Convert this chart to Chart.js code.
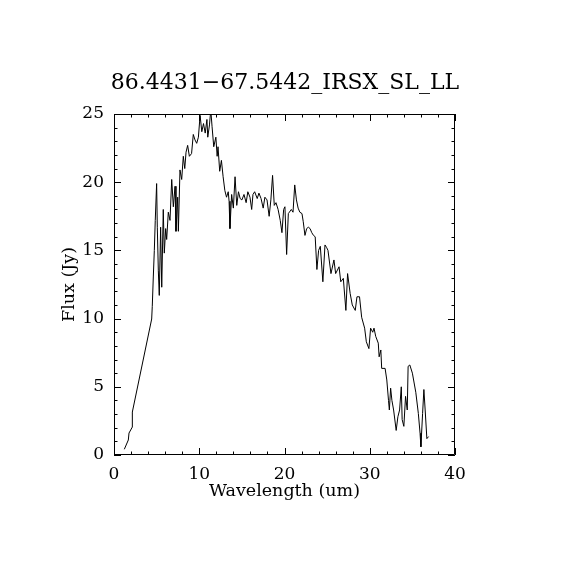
<!DOCTYPE html>
<html>
<head>
<meta charset="utf-8">
<script src="https://cdn.jsdelivr.net/npm/chart.js@4/dist/chart.umd.min.js"></script>
<style>
html,body{margin:0;padding:0;background:#fff;}
#wrap{width:570px;height:570px;}
</style>
</head>
<body>
<div id="wrap"><canvas id="c" width="570" height="570"></canvas></div>
<script>
const chartTitle = "86.4431\u221267.5442_IRSX_SL_LL";
const xTitle = "Wavelength (um)";
const yTitle = "Flux (Jy)";
const xTicks = [0, 10, 20, 30, 40];
const yTicks = [0, 5, 10, 15, 20, 25];

const wavelength = [
 1.21,1.68,1.76,2.15,2.15,4.42,4.49,4.61,4.73,4.84,
 5.0,5.08,5.2,5.31,5.47,5.6,5.78,5.9,6.06,6.18,
 6.37,6.57,6.77,6.96,7.16,7.27,7.47,7.55,7.74,7.94,
 8.13,8.3,8.45,8.64,8.84,9.1,9.3,9.5,9.7,9.9,
 10.1,10.3,10.5,10.7,10.9,11.0,11.2,11.35,11.5,11.7,
 11.95,12.1,12.2,12.4,12.6,12.8,13.0,13.2,13.4,13.5,
 13.6,13.8,14.0,14.2,14.4,14.6,14.8,15.0,15.25,15.5,
 15.7,15.95,16.15,16.3,16.5,16.8,17.0,17.25,17.5,17.7,
 17.95,18.2,18.4,18.6,18.8,19.0,19.25,19.5,19.7,19.9,
 20.05,20.25,20.45,20.8,21.0,21.2,21.4,21.6,21.8,22.05,
 22.2,22.4,22.6,22.8,23.0,23.2,23.4,23.6,23.8,24.0,
 24.2,24.5,24.75,24.95,25.1,25.45,25.8,26.0,26.4,26.6,
 26.9,27.2,27.4,27.7,27.95,28.3,28.5,28.8,29.05,29.4,
 29.6,29.9,30.1,30.35,30.5,30.7,31.0,31.1,31.3,31.4,
 31.8,32.0,32.2,32.3,32.45,32.6,32.8,33.1,33.3,33.5,
 33.7,33.8,34.0,34.2,34.4,34.5,34.7,35.0,35.4,35.7,
 35.9,36.0,36.2,36.35,36.5,36.7,36.9
];
const flux = [
 0.42,1.10,1.61,2.05,3.15,9.97,10.9,13.05,15.0,17.2,
 19.9,16.7,13.5,11.7,16.7,12.3,18.0,14.8,16.6,15.8,
 17.8,17.2,20.2,18.2,19.7,16.4,18.9,16.4,20.9,20.2,
 21.9,21.0,22.2,22.7,21.9,22.1,23.5,23.1,22.85,23.3,
 24.9,23.7,24.3,23.6,24.6,23.3,24.2,25.3,24.1,22.6,
 23.3,21.9,22.6,20.8,21.6,20.4,19.4,18.9,19.3,18.6,
 16.6,19.1,18.1,20.4,18.3,19.3,18.8,18.7,19.1,18.5,
 19.3,18.9,18.0,19.1,19.3,18.8,19.2,18.8,18.1,18.9,
 18.7,17.5,18.7,20.5,18.3,18.5,18.0,17.2,16.3,18.0,
 18.2,14.7,17.7,18.0,17.8,19.8,18.7,18.1,17.8,17.7,
 17.1,16.1,16.6,16.7,16.6,16.3,16.1,16.0,13.6,15.0,
 15.3,12.7,15.4,15.2,15.0,13.3,14.3,13.3,13.8,12.7,
 12.95,10.6,13.3,11.85,11.0,10.6,11.6,11.6,10.1,9.3,
 8.3,7.8,9.3,9.0,9.3,8.7,8.2,7.2,7.7,6.35,
 6.35,5.5,4.0,3.3,4.9,4.0,3.3,1.8,2.8,3.3,
 5.0,2.6,2.1,4.3,3.3,6.5,6.6,6.0,4.6,3.05,
 1.6,0.6,3.05,4.8,3.3,1.2,1.35
];

const points = wavelength.map((w, i) => ({x: w, y: flux[i]}));
const SERIF = "'DejaVu Serif', serif";

const frameTicks = {
  id: 'frameTicks',
  afterDraw(chart) {
    const {ctx, chartArea: a, scales} = chart;
    const xs = scales.x, ys = scales.y;
    ctx.save();
    ctx.strokeStyle = '#000';
    ctx.lineWidth = 1;
    ctx.beginPath();
    ctx.rect(a.left + 0.5, a.top + 0.5, a.right - a.left - 1, a.bottom - a.top - 1);
    ctx.stroke();
    ctx.beginPath();
    for (let v = 0; v <= 40; v += 2) {
      const px = Math.round(xs.getPixelForValue(v)) + 0.5;
      const len = (v % 10 === 0) ? 7 : 3.5;
      ctx.moveTo(px, a.bottom); ctx.lineTo(px, a.bottom - len);
      ctx.moveTo(px, a.top); ctx.lineTo(px, a.top + len);
    }
    for (let v = 0; v <= 25; v += 1) {
      const py = Math.round(ys.getPixelForValue(v)) + 0.5;
      const len = (v % 5 === 0) ? 7 : 3.5;
      ctx.moveTo(a.left, py); ctx.lineTo(a.left + len, py);
      ctx.moveTo(a.right, py); ctx.lineTo(a.right - len, py);
    }
    ctx.stroke();
    ctx.restore();
  }
};

new Chart(document.getElementById('c'), {
  type: 'line',
  data: {
    datasets: [{
      data: points,
      borderColor: '#000',
      borderWidth: 1,
      pointRadius: 0,
      tension: 0,
      fill: false
    }]
  },
  options: {
    responsive: false,
    animation: false,
    events: [],
    layout: {padding: 0},
    plugins: {
      legend: {display: false},
      tooltip: {enabled: false},
      title: {
        display: true,
        text: chartTitle,
        color: '#000',
        font: {family: SERIF, size: 22, weight: 'normal'},
        padding: {top: 70, bottom: 17.6}
      }
    },
    scales: {
      x: {
        type: 'linear',
        min: 0, max: 40,
        afterFit(s) { s.height = 115; },
        afterBuildTicks(s) { s.ticks = xTicks.map(v => ({value: v})); },
        grid: {display: false, drawTicks: false},
        border: {display: false},
        ticks: {color: '#000', font: {family: SERIF, size: 17}, padding: 9, maxRotation: 0, autoSkip: false},
        title: {display: true, text: xTitle, color: '#000', font: {family: SERIF, size: 17.5}, padding: {top: 0, bottom: 68}}
      },
      y: {
        type: 'linear',
        min: 0, max: 25,
        afterFit(s) { s.width = 114; },
        afterBuildTicks(s) { s.ticks = yTicks.map(v => ({value: v})); },
        grid: {display: false, drawTicks: false},
        border: {display: false},
        ticks: {color: '#000', font: {family: SERIF, size: 17}, padding: 10, autoSkip: false},
        title: {display: true, text: yTitle, color: '#000', font: {family: SERIF, size: 17.5}, padding: {top: 59, bottom: 0}}
      },
      y2: {
        type: 'linear',
        position: 'right',
        min: 0, max: 25,
        afterFit(s) { s.width = 115; },
        grid: {display: false, drawTicks: false},
        border: {display: false},
        ticks: {display: false}
      }
    }
  },
  plugins: [frameTicks]
});
</script>
</body>
</html>
